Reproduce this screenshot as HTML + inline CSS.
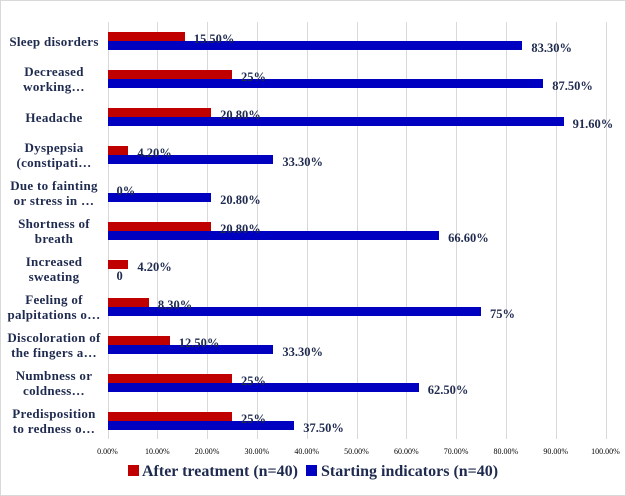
<!DOCTYPE html>
<html><head><meta charset="utf-8"><style>
body{margin:0;background:#fff}
#c{position:relative;width:624px;height:494px;border:1px solid #d9d9d9;font-family:"Liberation Serif",serif;overflow:hidden}
.cat{position:absolute;left:0;width:106px;text-align:center;font-weight:bold;font-size:13px;line-height:15px;color:#1f2a4f;letter-spacing:0.3px}
.val{position:absolute;font-weight:bold;font-size:12.5px;color:#1f2a4f;line-height:12px}
.tick{position:absolute;font-size:8px;width:50px;text-align:center;color:#000}
.bar{position:absolute;height:9px}
.grid{position:absolute;top:21px;height:417px;width:1px;background:#d9d9d9}
</style></head><body>
<div id="c">
<div id="legend" style="position:absolute;top:462px;left:0;width:624px;text-align:center;font-weight:bold;font-size:16px;color:#1f2a4f">
<span><span style="display:inline-block;width:11px;height:11px;background:#c00000"></span> After treatment (n=40)</span>
&nbsp;<span><span style="display:inline-block;width:11px;height:11px;background:#0000c0"></span> Starting indicators (n=40)</span>
</div>
</div>
<script>
const categories=["Sleep disorders","Decreased working…","Headache","Dyspepsia (constipati…","Due to fainting or stress in …","Shortness of breath","Increased sweating","Feeling of palpitations o…","Discoloration of the fingers a…","Numbness or coldness…","Predisposition to redness o…"];
const catLines=[["Sleep disorders"],["Decreased","working…"],["Headache"],["Dyspepsia","(constipati…"],["Due to fainting","or stress in …"],["Shortness of","breath"],["Increased","sweating"],["Feeling of","palpitations o…"],["Discoloration of","the fingers a…"],["Numbness or","coldness…"],["Predisposition","to redness o…"]];
const afterVals=[15.5,25,20.8,4.2,0,20.8,4.2,8.3,12.5,25,25];
const afterLabels=["15.50%","25%","20.80%","4.20%","0%","20.80%","4.20%","8.30%","12.50%","25%","25%"];
const startVals=[83.3,87.5,91.6,33.3,20.8,66.6,0,75,33.3,62.5,37.5];
const startLabels=["83.30%","87.50%","91.60%","33.30%","20.80%","66.60%","0","75%","33.30%","62.50%","37.50%"];
const ticks=["0.00%","10.00%","20.00%","30.00%","40.00%","50.00%","60.00%","70.00%","80.00%","90.00%","100.00%"];
const c=document.getElementById('c');
const X0=106.5,W=498,TOP=21,ROW=38;
const x=v=>X0+v/100*W;
const y=i=>TOP+10+i*ROW;
function mk(cls,css,txt){const d=document.createElement('div');d.className=cls;d.style.cssText=css;if(txt!=null)d.textContent=txt;c.appendChild(d);return d;}
ticks.forEach((t,i)=>{
 const g=mk('grid','left:'+Math.round(x(i*10))+'px');
 
 
 const l=mk('tick','left:'+(x(i*10)-25)+'px;top:446px',t);
 
 
});
categories.forEach((cat,i)=>{
 const yy=y(i);
 const lines=catLines[i];
 const cl=mk('cat','top:'+(yy+9-lines.length*7.5)+'px');
 cl.innerHTML=lines.join('<br>');
 
 
 const rb=mk('bar','background:#c00000;left:'+X0+'px;top:'+yy+'px;width:'+(x(afterVals[i])-X0)+'px');
 
 
 const bb=mk('bar','background:#0000c0;left:'+X0+'px;top:'+(yy+9)+'px;width:'+(x(startVals[i])-X0)+'px');
 
 
 const rl=mk('val','left:'+(x(afterVals[i])+9)+'px;top:'+(yy+1)+'px',afterLabels[i]);
 
 
 const bl=mk('val','left:'+(x(startVals[i])+9)+'px;top:'+(yy+10)+'px',startLabels[i]);
 
 
});
</script>
</body></html>
